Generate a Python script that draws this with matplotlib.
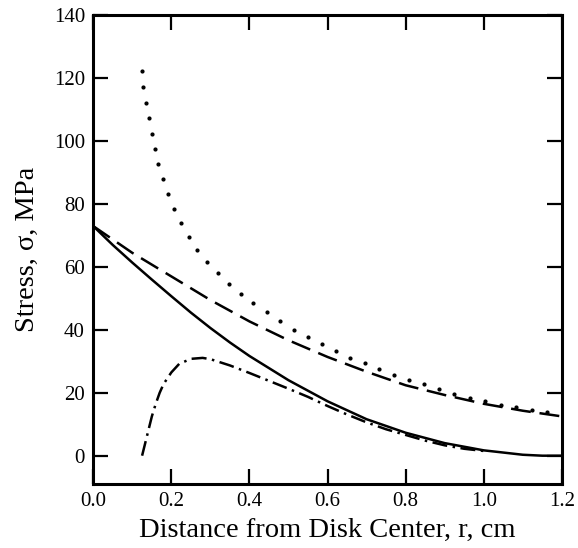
import numpy as np
import matplotlib.pyplot as plt

plt.rcParams['font.family'] = ['Liberation Serif', 'DejaVu Serif']

# curves (r in cm, stress in MPa)
r_solid = [0.0, 0.05, 0.1, 0.15, 0.2, 0.25, 0.3, 0.35, 0.4, 0.5, 0.6, 0.7, 0.8, 0.9, 1.0, 1.1, 1.15, 1.2]
s_solid = [73, 67, 61.4, 56.0, 50.7, 45.5, 40.6, 36.0, 31.7, 24, 17.3, 11.6, 7.3, 4.0, 1.7, 0.3, 0, 0]

r_dash = [0.0, 0.1, 0.2, 0.3, 0.4, 0.5, 0.6, 0.7, 0.8, 0.9, 1.0, 1.1, 1.2]
s_dash = [73, 64.5, 57, 49.5, 42.7, 36.7, 31.4, 26.7, 22.4, 19.3, 16.5, 14.3, 12.5]

r_dotdash = [0.125, 0.133, 0.141, 0.15, 0.16, 0.17, 0.18, 0.2, 0.22, 0.25, 0.28, 0.3, 0.35, 0.4,
             0.45, 0.5, 0.55, 0.6, 0.65, 0.7, 0.75, 0.8, 0.85, 0.9, 0.95, 1.0]
s_dotdash = [0, 4, 8, 12.5, 16.5, 20, 22.8, 26.5, 29.2, 30.8, 31.1, 30.7, 28.7, 26.3,
             23.8, 21.3, 18.7, 15.8, 13.1, 10.6, 8.4, 6.6, 4.8, 3.3, 2.2, 1.5]

r_dot = [0.124, 0.128, 0.134, 0.143, 0.15, 0.158, 0.167, 0.179, 0.191, 0.207, 0.224, 0.244,
         0.266, 0.292, 0.32, 0.348, 0.378, 0.41, 0.444, 0.478, 0.514, 0.551, 0.585, 0.621,
         0.657, 0.696, 0.733, 0.771, 0.808, 0.848, 0.886, 0.924, 0.965, 1.003, 1.043, 1.082,
         1.123, 1.161]
s_dot = [122.2, 117.1, 112.2, 107.3, 102.4, 97.5, 92.8, 87.9, 83.2, 78.4, 74.0, 69.6,
         65.5, 61.6, 58.0, 54.7, 51.5, 48.6, 45.6, 42.8, 40.1, 37.8, 35.4, 33.2,
         31.1, 29.5, 27.6, 25.8, 24.2, 22.8, 21.2, 19.7, 18.4, 17.5, 16.2, 15.5,
         14.6, 13.9]

x_ticks = [0.0, 0.2, 0.4, 0.6, 0.8, 1.0, 1.2]
y_ticks = [0, 20, 40, 60, 80, 100, 120, 140]

fig = plt.figure(figsize=(5.78, 5.48), dpi=100)
ax = fig.add_axes([0.1614, 0.1168, 0.8106, 0.855])

ax.plot(r_solid, s_solid, color='k', lw=1.8, solid_capstyle='butt')
ax.plot(r_dash, s_dash, color='k', lw=1.8, linestyle=(0, (8, 3.5)))
ax.plot(r_dotdash, s_dotdash, color='k', lw=1.8, linestyle=(0, (6, 2.2, 1, 2.2)))
ax.plot(r_dot, s_dot, linestyle='none', marker='o', ms=2.0, color='k')

ax.set_xlim(0, 1.2)
ax.set_ylim(-9, 140)
ax.set_xticks(x_ticks)
ax.set_xticklabels(['%.1f' % v for v in x_ticks])
ax.set_yticks(y_ticks)

for s in ax.spines.values():
    s.set_linewidth(2.2)
ax.tick_params(direction='in', length=11, width=1.6, top=True, right=True,
               labelsize=15, pad=6)

ax.set_xlabel('Distance from Disk Center, r, cm', fontsize=20.5, labelpad=5)
ax.set_ylabel('Stress, σ, MPa', fontsize=20.5, labelpad=10)

fig.savefig('out.png', dpi=100)
